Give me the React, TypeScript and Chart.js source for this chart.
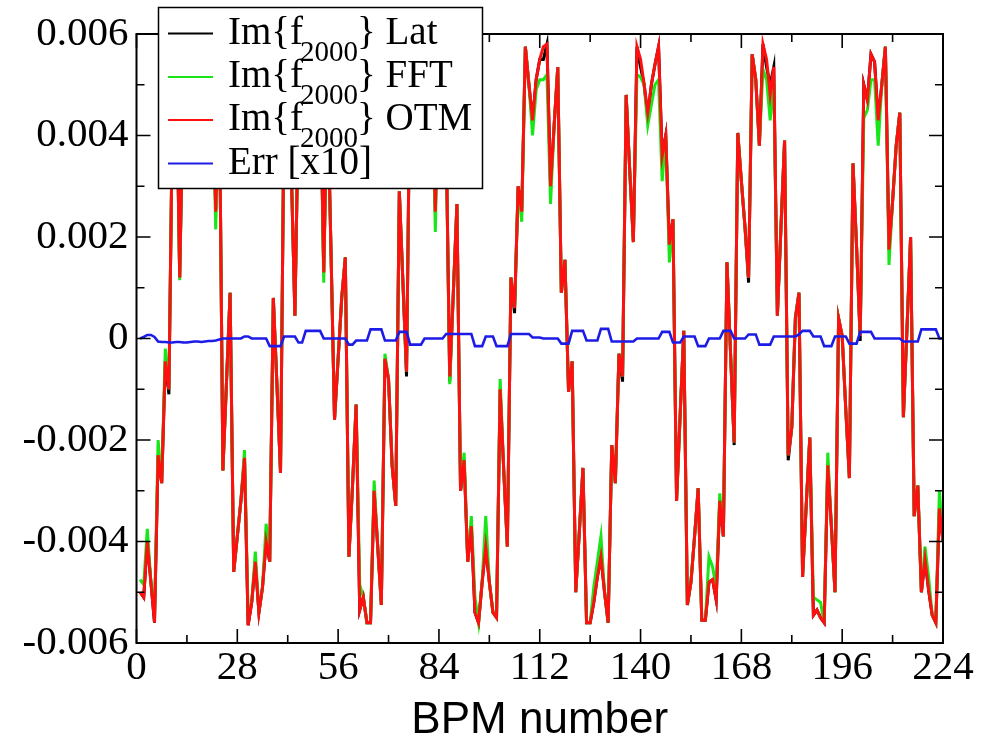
import React, { useEffect, useRef } from "react";
import { Chart, registerables } from "chart.js";

Chart.register(...registerables);

// Values are read in units of 1e-3
const UNIT = 0.001;

// BPM numbers (x positions)
const bpmNumbers: number[] = Array.from({ length: 224 }, (_, i) => i + 1);

// Im{f2000} OTM (red)
const otmValues: number[] = [
  -5.0, -5.1, -4.0, -4.8, -5.6, -2.3, -2.85, -0.45, -1.0, 4.5, 5.6, 1.2, 5.0, 5.8,
  5.3, 5.7, 4.5, 5.8, 5.2, 4.0, 5.6, 2.5, 5.0, -2.6, -0.85, 0.9, -4.6, -3.9,
  -3.2, -2.35, -5.65, -5.2, -4.4, -5.4, -4.9, -4.0, -4.4, 0.8, -0.9, -2.65, 4.6, 5.5,
  3.3, 0.45, 4.7, 5.2, 5.7, 5.0, 5.6, 4.8, 5.4, 1.3, 5.0, 1.8, -1.6, -0.4,
  0.8, 1.6, -4.3, -2.9, -1.3, -5.35, -5.1, -5.6, -5.6, -3.0, -4.1, -5.25, -0.4, -0.8,
  -2.5, -3.3, 2.9, 1.1, -0.65, 5.5, 4.6, 5.8, 5.2, 5.7, 4.8, 5.5, 2.5, 5.6,
  5.0, 4.0, -0.75, 0.9, 2.65, -3.0, -2.4, -4.4, -3.7, -5.4, -5.6, -4.8, -4.1, -4.8,
  -5.4, -5.5, -1.0, -2.6, -4.1, 1.2, 0.6, 3.0, 2.5, 5.75, 5.0, 4.3, 5.1, 5.5,
  5.75, 5.8, 3.0, 4.2, 5.35, 0.9, 1.55, -1.05, -0.45, -5.0, -3.8, -2.55, -5.6, -5.6,
  -5.2, -4.7, -4.3, -5.0, -5.6, -2.1, -2.85, -0.3, -0.75, 4.8, 3.3, 1.9, 5.75, 5.5,
  5.0, 4.45, 5.0, 5.4, 5.75, 3.6, 4.0, 1.85, 2.35, -3.2, -1.5, 0.15, -5.25, -4.8,
  -3.9, -2.95, -5.55, -5.55, -4.8, -4.75, -5.15, -3.2, -3.9, 1.5, -0.3, -2.05, 4.05, 3.1,
  2.2, 1.2, 5.6, 5.1, 3.8, 5.8, 5.5, 4.8, 5.35, 0.45, 2.2, 3.9, -2.3, -1.75,
  0.4, 0.9, -4.7, -3.3, -1.95, -5.45, -5.35, -5.5, -5.6, -2.5, -3.7, -5.0, 0.4, 0.05,
  -1.4, -2.75, 3.45, 1.8, 0.05, 5.0, 4.7, 5.6, 5.45, 4.3, 5.0, 5.75, 1.75, 2.7,
  3.8, 4.45, -1.55, 0.2, 2.0, -3.5, -2.9, -5.0, -4.35, -4.95, -5.45, -5.6, -3.35, -4.0,
];

// Im{f2000} FFT (green)
const fftValues: number[] = [
  -4.75, -4.85, -3.75, -4.8, -5.4, -2.0, -2.85, -0.2, -1.0, 4.5, 5.6, 1.15, 5.0, 5.8,
  5.3, 5.7, 4.5, 5.8, 5.2, 4.0, 5.6, 2.15, 5.0, -2.6, -0.85, 0.9, -4.6, -3.9,
  -3.2, -2.2, -5.45, -5.2, -4.2, -5.4, -4.9, -3.65, -4.4, 0.8, -0.9, -2.65, 4.6, 5.5,
  3.3, 0.45, 4.7, 5.2, 5.7, 5.0, 5.6, 4.8, 5.4, 1.1, 5.0, 1.8, -1.6, -0.4,
  0.8, 1.6, -4.3, -2.9, -1.3, -4.85, -5.1, -5.6, -5.6, -2.8, -4.1, -5.25, -0.3, -0.8,
  -2.5, -3.3, 2.9, 1.1, -0.65, 5.5, 4.6, 5.8, 5.2, 5.7, 4.8, 5.5, 2.1, 5.6,
  5.0, 4.0, -0.9, 0.9, 2.65, -3.0, -2.25, -4.4, -3.5, -5.1, -5.6, -4.8, -3.5, -4.8,
  -5.4, -5.5, -0.8, -2.6, -4.1, 1.2, 0.6, 3.0, 2.3, 5.75, 5.0, 4.0, 4.9, 5.1,
  5.1, 5.2, 2.65, 4.2, 5.35, 0.9, 1.55, -1.05, -0.45, -5.0, -3.8, -2.55, -5.6, -5.6,
  -4.9, -4.4, -3.9, -5.0, -5.6, -2.1, -2.85, -0.3, -0.75, 4.8, 3.3, 1.9, 5.2, 5.15,
  5.0, 4.2, 4.6, 5.0, 5.1, 3.1, 4.0, 1.5, 2.35, -3.2, -1.5, 0.15, -5.25, -4.8,
  -3.9, -2.95, -5.55, -5.55, -4.3, -4.5, -4.9, -3.05, -3.9, 1.5, -0.3, -2.05, 4.05, 3.1,
  2.2, 1.2, 5.6, 5.1, 3.8, 5.3, 5.1, 4.3, 5.1, 0.45, 2.2, 3.9, -2.3, -1.75,
  0.4, 0.9, -4.7, -3.3, -1.95, -5.1, -5.15, -5.2, -5.6, -2.25, -3.7, -5.0, 0.4, 0.05,
  -1.4, -2.75, 3.45, 1.8, 0.05, 4.35, 4.5, 5.1, 5.1, 3.8, 5.0, 5.75, 1.45, 2.7,
  3.8, 4.45, -1.55, 0.2, 2.0, -3.5, -2.9, -5.0, -4.1, -4.7, -5.45, -5.6, -3.0, -4.0,
];

// Im{f2000} Lat (black)
const latValues: number[] = [
  -5.0, -5.1, -4.0, -4.8, -5.6, -2.3, -2.85, -0.45, -1.1, 4.5, 5.6, 1.2, 5.0, 5.8,
  5.3, 5.7, 4.5, 5.8, 5.2, 4.0, 5.6, 2.5, 5.0, -2.6, -0.85, 0.9, -4.6, -3.9,
  -3.2, -2.35, -5.65, -5.2, -4.4, -5.4, -4.9, -4.0, -4.4, 0.8, -0.9, -2.65, 4.6, 5.5,
  3.3, 0.45, 4.7, 5.2, 5.7, 5.0, 5.6, 4.8, 5.4, 1.3, 5.0, 1.8, -1.6, -0.4,
  0.8, 1.6, -4.3, -2.9, -1.3, -5.35, -5.1, -5.6, -5.6, -3.0, -4.1, -5.25, -0.4, -0.8,
  -2.5, -3.3, 2.9, 1.1, -0.75, 5.5, 4.6, 5.8, 5.2, 5.7, 4.8, 5.5, 2.5, 5.6,
  5.0, 4.0, -0.85, 0.9, 2.65, -3.0, -2.4, -4.4, -3.7, -5.4, -5.6, -4.8, -4.1, -4.8,
  -5.4, -5.5, -1.0, -2.6, -4.1, 1.2, 0.5, 3.0, 2.5, 5.75, 5.0, 4.3, 5.1, 5.5,
  5.5, 5.8, 3.0, 4.2, 5.35, 0.9, 1.55, -1.05, -0.45, -5.0, -3.8, -2.55, -5.6, -5.6,
  -5.2, -4.7, -4.3, -5.0, -5.6, -2.1, -2.85, -0.3, -0.85, 4.8, 3.3, 1.9, 5.75, 5.35,
  5.0, 4.35, 5.0, 5.4, 5.75, 3.6, 4.0, 1.85, 2.35, -3.2, -1.5, 0.15, -5.25, -4.8,
  -3.9, -2.95, -5.55, -5.55, -4.8, -4.75, -5.15, -3.2, -3.9, 1.5, -0.3, -2.1, 4.05, 3.1,
  2.2, 1.1, 5.6, 5.1, 3.8, 5.8, 5.35, 5.0, 5.35, 0.45, 2.2, 3.9, -2.4, -1.75,
  0.4, 0.9, -4.7, -3.3, -1.95, -5.45, -5.35, -5.5, -5.6, -2.5, -3.7, -5.0, 0.4, 0.05,
  -1.4, -2.75, 3.45, 1.8, -0.05, 5.0, 4.7, 5.6, 5.45, 4.3, 5.0, 5.75, 1.75, 2.7,
  3.8, 4.45, -1.55, 0.2, 2.0, -3.5, -2.9, -5.0, -4.35, -4.95, -5.45, -5.6, -3.35, -4.0,
];

// Err [x10] (blue)
const errValues: number[] = [
  0.0, 0.03, 0.07, 0.07, 0.03, -0.06, -0.07, -0.07, -0.08, -0.08, -0.07, -0.07, -0.08, -0.08,
  -0.07, -0.06, -0.06, -0.07, -0.06, -0.05, -0.05, -0.04, -0.02, 0.0, 0.0, 0.0, 0.0, 0.0,
  0.0, 0.04, 0.04, 0.0, 0.0, 0.0, 0.0, 0.0, -0.15, -0.15, -0.15, -0.15, 0.04, 0.04,
  0.04, 0.04, -0.08, -0.08, 0.15, 0.15, 0.15, 0.15, 0.15, 0.0, 0.0, 0.0, 0.0, 0.0,
  0.0, 0.0, -0.12, -0.12, -0.04, -0.04, -0.04, -0.04, 0.18, 0.18, 0.18, 0.18, -0.04, -0.04,
  -0.04, -0.04, 0.13, 0.13, 0.13, -0.12, -0.12, -0.12, -0.12, 0.0, 0.0, 0.0, 0.0, 0.0,
  0.0, 0.09, 0.09, 0.09, 0.09, 0.09, 0.09, 0.09, 0.09, -0.15, -0.15, -0.15, 0.04, 0.04,
  0.04, -0.15, -0.15, -0.15, -0.15, 0.09, 0.09, 0.09, 0.09, 0.09, 0.09, 0.02, 0.02, 0.02,
  0.0, 0.0, 0.0, 0.0, 0.0, -0.1, -0.1, -0.1, 0.15, 0.15, 0.15, 0.15, -0.04, -0.04,
  -0.04, -0.04, 0.19, 0.19, 0.19, -0.06, -0.06, -0.06, -0.06, -0.06, -0.06, -0.06, 0.0, 0.0,
  0.0, 0.0, 0.0, 0.0, 0.0, 0.13, 0.13, 0.13, -0.08, -0.08, -0.08, 0.04, 0.04, 0.04,
  0.04, -0.15, -0.15, -0.15, 0.0, 0.0, 0.0, 0.0, 0.15, 0.15, 0.15, 0.0, 0.0, 0.0,
  0.0, 0.08, 0.08, 0.08, -0.12, -0.12, -0.12, -0.12, 0.04, 0.04, 0.04, 0.04, 0.04, 0.04,
  0.04, 0.08, 0.15, 0.15, 0.15, 0.04, 0.04, 0.04, -0.15, -0.15, -0.15, 0.04, 0.04, 0.04,
  0.04, -0.1, -0.1, -0.1, 0.13, 0.13, 0.13, 0.13, 0.0, 0.0, 0.0, 0.0, 0.0, 0.0,
  0.0, 0.0, -0.06, -0.06, -0.06, -0.06, -0.06, 0.18, 0.18, 0.18, 0.18, 0.18, 0.0, 0.0,
];

// Axis ticks
const xTickValues: number[] = [0, 28, 56, 84, 112, 140, 168, 196, 224];
const xTickLabels: string[] = ["0", "28", "56", "84", "112", "140", "168", "196", "224"];
const xMinorTicks: number[] = [14, 42, 70, 98, 126, 154, 182, 210];
const yTickValues: number[] = [-0.006, -0.004, -0.002, 0, 0.002, 0.004, 0.006];
const yTickLabels: string[] = ["-0.006", "-0.004", "-0.002", "0", "0.002", "0.004", "0.006"];
const yMinorTicks: number[] = [-0.005, -0.003, -0.001, 0.001, 0.003, 0.005];

const seriesNames: string[] = ["Lat", "FFT", "OTM"];
const errName = "Err [x10]";

const COLORS = { lat: "#000000", fft: "#19e619", otm: "#ff1010", err: "#1c1ce6" };
const SERIF = '"Liberation Serif", "Times New Roman", serif';
const SANS = '"Liberation Sans", Arial, sans-serif';

const toPoints = (vals: number[]) => bpmNumbers.map((x, i) => ({ x, y: vals[i] * UNIT }));

const framePlugin = {
  id: "frameTicks",
  afterDatasetsDraw(chart: any) {
    const { ctx, chartArea } = chart;
    const xs = chart.scales.x;
    const ys = chart.scales.y;
    const { left, right, top, bottom } = chartArea;
    ctx.save();
    ctx.strokeStyle = "#000";
    ctx.lineWidth = 1.6;
    const major = 14;
    const minor = 8;
    const drawX = (v: number, len: number) => {
      const px = xs.getPixelForValue(v);
      ctx.beginPath();
      ctx.moveTo(px, bottom);
      ctx.lineTo(px, bottom - len);
      ctx.moveTo(px, top);
      ctx.lineTo(px, top + len);
      ctx.stroke();
    };
    const drawY = (v: number, len: number) => {
      const py = ys.getPixelForValue(v);
      ctx.beginPath();
      ctx.moveTo(left, py);
      ctx.lineTo(left + len, py);
      ctx.moveTo(right, py);
      ctx.lineTo(right - len, py);
      ctx.stroke();
    };
    xTickValues.forEach((v) => drawX(v, major));
    xMinorTicks.forEach((v) => drawX(v, minor));
    yTickValues.forEach((v) => drawY(v, major));
    yMinorTicks.forEach((v) => drawY(v, minor));
    ctx.lineWidth = 2;
    ctx.strokeRect(left, top, right - left, bottom - top);
    ctx.restore();
  },
};

const legendPlugin = {
  id: "legendBox",
  afterDraw(chart: any) {
    const { ctx } = chart;
    ctx.save();
    const bx = 158, by = 7, bw = 324, bh = 181;
    ctx.fillStyle = "#fff";
    ctx.fillRect(bx, by, bw, bh);
    ctx.strokeStyle = "#000";
    ctx.lineWidth = 1.5;
    ctx.strokeRect(bx + 0.5, by + 0.5, bw, bh);
    const baselines = [43.5, 87, 130, 173.5];
    const colors = [COLORS.lat, COLORS.fft, COLORS.otm, COLORS.err];
    const mainFont = `39px ${SERIF}`;
    const subFont = `29px ${SERIF}`;
    ctx.textBaseline = "alphabetic";
    ctx.textAlign = "left";
    baselines.forEach((bl, i) => {
      ctx.strokeStyle = colors[i];
      ctx.lineWidth = 2;
      ctx.beginPath();
      ctx.moveTo(168, bl - 10);
      ctx.lineTo(213, bl - 10);
      ctx.stroke();
      ctx.fillStyle = "#000";
      let x = 228;
      if (i < 3) {
        ctx.font = mainFont;
        ctx.fillText("Im{f", x, bl);
        x += ctx.measureText("Im{f").width - 3;
        ctx.font = subFont;
        ctx.fillText("2000", x, bl + 17);
        x += ctx.measureText("2000").width - 1;
        ctx.font = mainFont;
        ctx.fillText("} " + seriesNames[i], x, bl);
      } else {
        ctx.font = mainFont;
        ctx.fillText(errName, x, bl);
      }
    });
    ctx.restore();
  },
};

export default function App() {
  const canvasRef = useRef<HTMLCanvasElement | null>(null);

  useEffect(() => {
    const canvas = canvasRef.current;
    if (!canvas) return;
    const mk = (label: string, vals: number[], color: string, order: number, width: number) => ({
      label,
      data: toPoints(vals),
      borderColor: color,
      backgroundColor: color,
      borderWidth: width,
      pointRadius: 0,
      tension: 0,
      fill: false,
      order,
    });
    const chart = new Chart(canvas, {
      type: "line",
      data: {
        datasets: [
          mk("Im{f2000} Lat", latValues, COLORS.lat, 4, 3),
          mk("Im{f2000} FFT", fftValues, COLORS.fft, 3, 3),
          mk("Im{f2000} OTM", otmValues, COLORS.otm, 2, 3),
          mk(errName, errValues, COLORS.err, 1, 2.6),
        ],
      },
      options: {
        responsive: false,
        animation: false,
        devicePixelRatio: 1,
        layout: { padding: { left: 0, right: 52, top: 34, bottom: 0 } },
        plugins: { legend: { display: false }, tooltip: { enabled: false } },
        scales: {
          x: {
            type: "linear",
            min: 0,
            max: 224,
            afterBuildTicks: (s: any) => {
              s.ticks = xTickValues.map((v) => ({ value: v }));
            },
            afterFit: (s: any) => {
              s.height = 97;
              s.paddingLeft = 0;
              s.paddingRight = 0;
            },
            ticks: {
              autoSkip: false,
              maxRotation: 0,
              color: "#000",
              padding: 1,
              font: { family: SERIF, size: 41 },
              callback: (_v: any, i: number) => xTickLabels[i],
            },
            grid: { display: false, drawTicks: false },
            border: { display: false },
            title: {
              display: true,
              text: "BPM number",
              color: "#000",
              font: { family: SANS, size: 44, lineHeight: 1 },
              padding: { top: 0, bottom: -3 },
            },
          },
          y: {
            type: "linear",
            min: -0.006,
            max: 0.006,
            afterBuildTicks: (s: any) => {
              s.ticks = yTickValues.map((v) => ({ value: v }));
            },
            afterFit: (s: any) => {
              s.width = 136.5;
              s.paddingTop = 0;
              s.paddingBottom = 0;
            },
            ticks: {
              color: "#000",
              padding: 8,
              font: { family: SERIF, size: 41 },
              callback: (_v: any, i: number) => yTickLabels[i],
            },
            grid: { display: false, drawTicks: false },
            border: { display: false },
          },
        },
      } as any,
      plugins: [framePlugin, legendPlugin],
    });
    return () => chart.destroy();
  }, []);

  return (
    <div style={{ position: "fixed", left: 0, top: 0, width: 995, height: 740, background: "#fff" }}>
      <canvas ref={canvasRef} width={995} height={740} style={{ width: 995, height: 740, display: "block" }} />
    </div>
  );
}
